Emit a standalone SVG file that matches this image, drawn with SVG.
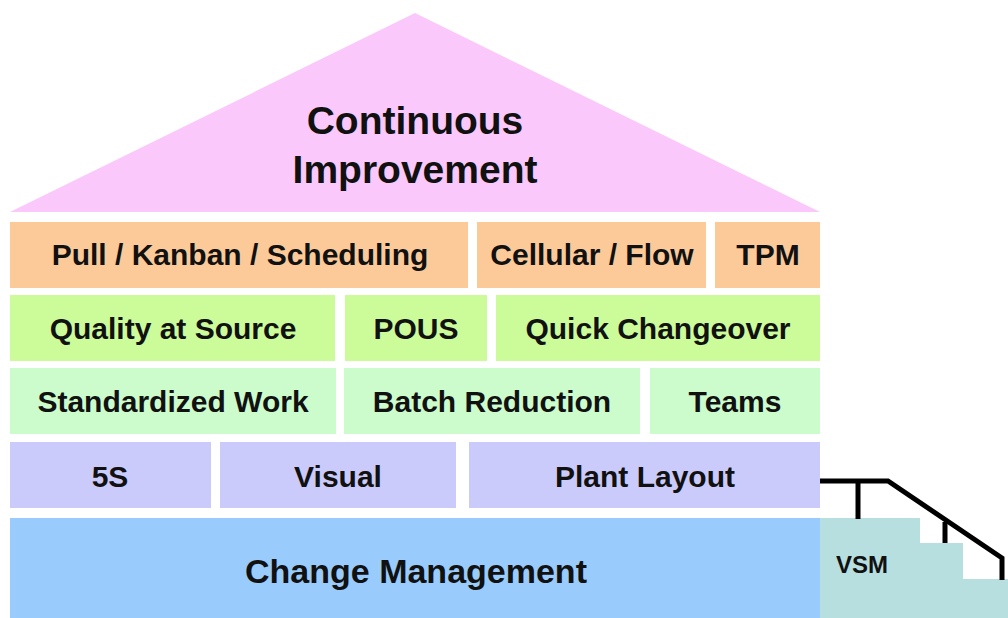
<svg xmlns="http://www.w3.org/2000/svg" width="1008" height="618" viewBox="0 0 1008 618">
  <style>
    .lbl { font-family: "Liberation Sans", Arial, sans-serif; font-weight: bold; font-size: 30px; fill: #111; text-anchor: middle; }
    .roof { fill: #fbc8fb; }
    .r1 { fill: #fcca98; }
    .r2 { fill: #ccfc99; }
    .r3 { fill: #ccfccc; }
    .r4 { fill: #cbcbfb; }
    .base { fill: #99ccfc; }
    .vsm { fill: #b8dfe0; }
    .rail { fill: none; stroke: #000; stroke-width: 5; stroke-linejoin: miter; }
  </style>
  <rect width="1008" height="618" fill="#ffffff"/>

  <!-- roof -->
  <g id="roof">
    <polygon class="roof" points="10,212 415,13 820,212"/>
    <text class="lbl" x="415" y="134" style="font-size:39px">Continuous</text>
    <text class="lbl" x="415" y="183" style="font-size:39px">Improvement</text>
  </g>

  <!-- row 1 -->
  <g id="pull"><rect class="r1" x="10" y="222" width="458" height="66"/><text class="lbl" x="240" y="265">Pull / Kanban / Scheduling</text></g>
  <g id="cellular"><rect class="r1" x="477" y="222" width="229" height="66"/><text class="lbl" x="592" y="265">Cellular / Flow</text></g>
  <g id="tpm"><rect class="r1" x="715" y="222" width="105" height="66"/><text class="lbl" x="768" y="265">TPM</text></g>

  <!-- row 2 -->
  <g id="quality"><rect class="r2" x="10" y="295" width="325" height="66"/><text class="lbl" x="173" y="339">Quality at Source</text></g>
  <g id="pous"><rect class="r2" x="345" y="295" width="142" height="66"/><text class="lbl" x="416" y="339">POUS</text></g>
  <g id="changeover"><rect class="r2" x="496" y="295" width="324" height="66"/><text class="lbl" x="658" y="339">Quick Changeover</text></g>

  <!-- row 3 -->
  <g id="stdwork"><rect class="r3" x="10" y="368" width="326" height="66"/><text class="lbl" x="173" y="412">Standardized Work</text></g>
  <g id="batch"><rect class="r3" x="344" y="368" width="296" height="66"/><text class="lbl" x="492" y="412">Batch Reduction</text></g>
  <g id="teams"><rect class="r3" x="650" y="368" width="170" height="66"/><text class="lbl" x="735" y="412">Teams</text></g>

  <!-- row 4 -->
  <g id="fives"><rect class="r4" x="10" y="442" width="201" height="66"/><text class="lbl" x="110" y="487">5S</text></g>
  <g id="visual"><rect class="r4" x="220" y="442" width="236" height="66"/><text class="lbl" x="338" y="487">Visual</text></g>
  <g id="layout"><rect class="r4" x="469" y="442" width="351" height="66"/><text class="lbl" x="645" y="487">Plant Layout</text></g>

  <!-- foundation -->
  <g id="change"><rect class="base" x="10" y="518" width="810" height="100"/><text class="lbl" x="416" y="583" style="font-size:34px">Change Management</text></g>

  <!-- value stream mapping steps -->
  <g id="vsm">
    <polygon class="vsm" points="820,518 920,518 920,543 963,543 963,579 1008,579 1008,618 820,618"/>
    <text class="lbl" x="862" y="573" style="font-size:24px">VSM</text>
  </g>

  <!-- handrail -->
  <g id="connectors">
    <polyline class="rail" points="820,481 888,481 1002,558 1002,580"/>
    <line class="rail" x1="858" y1="481" x2="858" y2="519"/>
    <line class="rail" x1="945" y1="522" x2="945" y2="543"/>
  </g>
</svg>
